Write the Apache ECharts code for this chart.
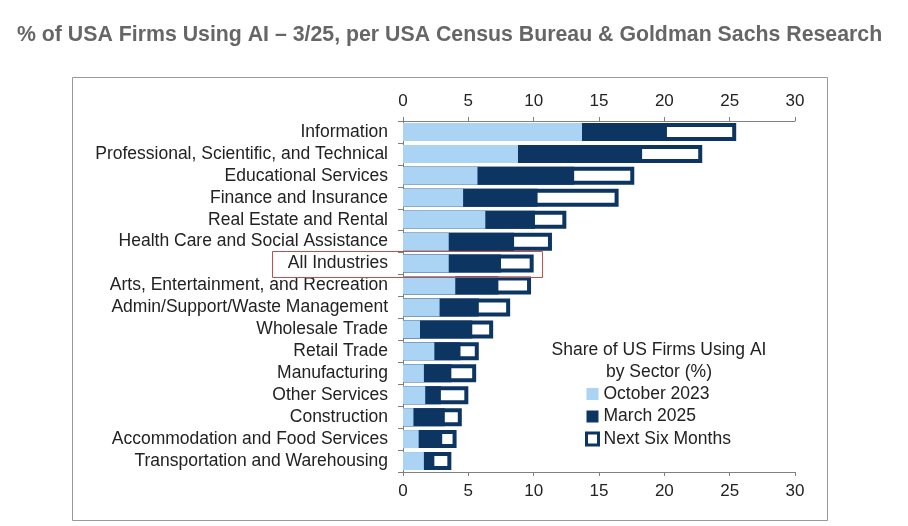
<!DOCTYPE html>
<html>
<head>
<meta charset="utf-8">
<script src="https://cdn.jsdelivr.net/npm/echarts@6/dist/echarts.min.js"></script>
<style>
  html, body { margin: 0; padding: 0; background: #fff; }
  #main { width: 908px; height: 526px; }
</style>
</head>
<body>
<div id="main"></div>
<script>
// 数据（从图上读出来的，单位 %）
var sectors = [
  'Information',
  'Professional, Scientific, and Technical',
  'Educational Services',
  'Finance and Insurance',
  'Real Estate and Rental',
  'Health Care and Social Assistance',
  'All Industries',
  'Arts, Entertainment, and Recreation',
  'Admin/Support/Waste Management',
  'Wholesale Trade',
  'Retail Trade',
  'Manufacturing',
  'Other Services',
  'Construction',
  'Accommodation and Food Services',
  'Transportation and Warehousing'
];
var oct2023 = [13.7, 8.8, 5.7, 4.6, 6.3, 3.5, 3.5, 4.0, 2.8, 1.3, 2.4, 1.6, 1.7, 0.8, 1.2, 1.6];
var mar2025 = [20.2, 18.3, 13.1, 10.3, 10.1, 8.5, 7.5, 7.3, 5.8, 5.3, 4.4, 3.7, 2.9, 3.2, 3.0, 2.4];
var nextSix = [25.5, 22.9, 17.7, 16.5, 12.5, 11.4, 10.0, 9.8, 8.2, 6.9, 5.8, 5.6, 5.0, 4.5, 4.1, 3.7];
var xTicks = { min: 0, max: 30, interval: 5 };

var lightBlue = '#abd3f3';
var navy = '#0c3562';
var fontName = 'Liberation Sans, Arial, sans-serif';

var chart = echarts.init(document.getElementById('main'));

//x轴（上下两条，一样的刻度）
function valueAxis(pos) {
  return {
    type: 'value',
    position: pos,
    min: xTicks.min,
    max: xTicks.max,
    interval: xTicks.interval,
    splitLine: { show: false },
    axisLine: { show: true, lineStyle: { color: '#808080', width: 1 } },
    axisTick: { show: true, inside: false, length: 4, lineStyle: { color: '#808080' } },
    axisLabel: { color: '#222', fontSize: 17, fontFamily: fontName, margin: 11 }
  };
}

option = {
  animation: false,
  backgroundColor: '#fff',
  title: [
    {
      text: '% of USA Firms Using AI \u2013 3/25, per USA Census Bureau & Goldman Sachs Research',
      left: 17,
      top: 25,
      padding: 0,
      textStyle: { color: '#666', fontSize: 21.3, fontWeight: 'bold', fontFamily: fontName }
    },
    {
      text: 'Share of US Firms Using AI\nby Sector (%)',
      left: 654,
      top: 334,
      textAlign: 'center',
      textStyle: { color: '#222', fontSize: 17.5, fontWeight: 'normal', fontFamily: fontName, lineHeight: 22, align: 'center' }
    }
  ],
  legend: {
    orient: 'vertical',
    left: 585,
    top: 385,
    padding: 0,
    itemWidth: 12,
    itemHeight: 12,
    itemGap: 4.5,
    icon: 'rect',
    textStyle: { color: '#222', fontSize: 17.5, fontFamily: fontName },
    data: [
      { name: 'October 2023', itemStyle: { borderWidth: 0 } },
      { name: 'March 2025', itemStyle: { borderWidth: 0 } },
      { name: 'Next Six Months', itemStyle: { color: '#fff', borderColor: navy, borderWidth: 3 } }
    ]
  },
  grid: { left: 403, right: 113, top: 121, bottom: 54 },
  xAxis: [valueAxis('top'), valueAxis('bottom')],
  yAxis: {
    type: 'category',
    data: sectors,
    inverse: true,
    axisLine: { show: true, lineStyle: { color: '#808080', width: 1 } },
    axisTick: { show: true, inside: false, length: 5, lineStyle: { color: '#808080' } },
    axisLabel: { interval: 0, color: '#222', fontSize: 17.5, fontFamily: fontName, margin: 15 }
  },
  series: [
    {
      name: 'Next Six Months',
      type: 'bar',
      xAxisIndex: 0,
      data: nextSix,
      barWidth: 18,
      barGap: '-100%',
      itemStyle: { color: '#fff', borderColor: navy, borderWidth: 4 }
    },
    {
      name: 'March 2025',
      type: 'bar',
      xAxisIndex: 0,
      data: mar2025,
      barWidth: 18,
      barGap: '-100%',
      itemStyle: { color: navy }
    },
    {
      name: 'October 2023',
      type: 'bar',
      xAxisIndex: 0,
      data: oct2023,
      barWidth: 18,
      barGap: '-100%',
      itemStyle: { color: lightBlue }
    }
  ]
};
chart.setOption(option);

//外框 + All Industries 的红框
var rowY = chart.convertToPixel({ yAxisIndex: 0 }, 'All Industries');
var boxRight = chart.convertToPixel({ xAxisIndex: 0 }, 10.6);
chart.setOption({
  graphic: [
    {
      type: 'rect',
      shape: { x: 72.5, y: 77.5, width: 755, height: 443 },
      style: { fill: null, stroke: '#999', lineWidth: 1 },
      silent: true, z: -1
    },
    {
      type: 'rect',
      shape: { x: 272.5, y: Math.round(rowY) - 12.5, width: Math.round(boxRight) - 272, height: 26 },
      style: { fill: null, stroke: '#c0504d', lineWidth: 1 },
      silent: true, z: 100
    }
  ]
});
</script>
</body>
</html>
